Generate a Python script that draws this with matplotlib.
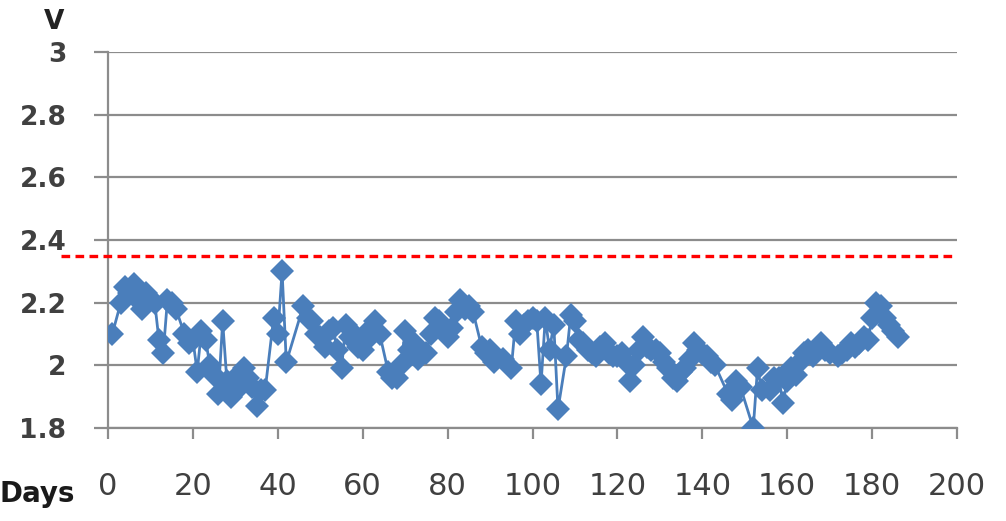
import matplotlib
matplotlib.use("Agg")
import matplotlib.pyplot as plt

# daily readings (day, volts)
days = [1, 3, 4, 5, 6, 7, 8, 9, 10, 11, 12, 13, 14, 15, 16, 18, 19, 20, 21, 22,
        23, 24, 25, 26, 27, 28, 29, 30, 31, 32, 33, 34, 35, 36, 37, 39, 40, 41, 42,
        46, 47, 48, 49, 50, 51, 52, 53, 54, 55, 56, 57, 58, 59, 60, 61, 62, 63, 64,
        66, 67, 68, 69, 70, 71, 72, 73, 74, 75, 76, 77, 78, 79, 80, 81, 82, 83, 84,
        85, 86, 88, 89, 90, 91, 93, 95, 96, 97, 98, 99, 100, 101, 102, 103, 104,
        105, 106, 108, 109, 110, 111, 112, 113, 114, 115, 116, 117, 118, 119, 120,
        121, 122, 123, 124, 125, 126, 127, 128, 129, 130, 131, 132, 133, 134, 135,
        136, 137, 138, 139, 140, 141, 142, 143, 146, 147, 148, 149, 152, 153, 154,
        156, 157, 158, 159, 160, 161, 162, 163, 164, 165, 166, 167, 168, 169, 170,
        172, 173, 174, 175, 176, 177, 178, 179, 180, 181, 182, 183, 184, 185, 186]
volts = [2.10, 2.20, 2.25, 2.23, 2.26, 2.21, 2.18, 2.23, 2.21, 2.20, 2.08, 2.04, 2.21, 2.20, 2.18, 2.10, 2.07, 2.08, 1.98, 2.11,
         2.08, 2.00, 1.97, 1.91, 2.14, 1.95, 1.90, 1.96, 1.93, 1.99, 1.96, 1.93, 1.87, 1.92, 1.92, 2.15, 2.10, 2.30, 2.01,
         2.19, 2.15, 2.14, 2.10, 2.09, 2.06, 2.11, 2.12, 2.05, 1.99, 2.13, 2.09, 2.10, 2.06, 2.05, 2.08, 2.12, 2.14, 2.10,
         1.98, 1.96, 1.96, 2.00, 2.11, 2.05, 2.07, 2.02, 2.04, 2.04, 2.10, 2.15, 2.14, 2.11, 2.09, 2.12, 2.17, 2.21, 2.18,
         2.19, 2.17, 2.06, 2.04, 2.05, 2.01, 2.02, 1.99, 2.14, 2.10, 2.13, 2.14, 2.15, 2.14, 1.94, 2.15, 2.05,
         2.13, 1.86, 2.03, 2.16, 2.14, 2.08, 2.07, 2.05, 2.04, 2.03, 2.06, 2.07, 2.04, 2.03, 2.03,
         2.04, 2.01, 1.95, 2.00, 2.05, 2.09, 2.06, 2.05, 2.05, 2.04, 2.01, 1.99, 1.96, 1.95, 1.98,
         1.99, 2.02, 2.07, 2.05, 2.04, 2.03, 2.01, 2.00, 1.91, 1.89, 1.95, 1.93, 1.80, 1.99, 1.92,
         1.92, 1.96, 1.96, 1.88, 1.95, 1.99, 1.97, 2.01, 2.04, 2.05, 2.03, 2.05, 2.07, 2.05, 2.04,
         2.03, 2.04, 2.05, 2.07, 2.06, 2.07, 2.09, 2.08, 2.15, 2.20, 2.19, 2.15, 2.13, 2.11, 2.09]

limit_v = 2.35
limit_days = [-11, 199]

x_ticks = [0, 20, 40, 60, 80, 100, 120, 140, 160, 180, 200]
y_ticks = [1.8, 2, 2.2, 2.4, 2.6, 2.8, 3]
y_labels = ["1.8", "2", "2.2", "2.4", "2.6", "2.8", "3"]

fig = plt.figure(figsize=(10.06, 5.21), dpi=100)
ax = fig.add_axes([0.1074, 0.1785, 0.8439, 0.7215])

ax.plot(days, volts, color="#4A7EBB", lw=2, marker="D", ms=12, mew=0, zorder=3)
ax.plot(limit_days, [limit_v, limit_v], color="#FF0000", lw=2.4, ls=(0, (2.6, 1.6)),
        clip_on=False, zorder=4)

ax.set_xlim(0, 200)
ax.set_ylim(1.8, 3)
ax.set_xticks(x_ticks)
ax.set_yticks(y_ticks)
ax.set_yticklabels(y_labels)

ax.grid(axis="y", color="#8c8c8c", lw=1.6)
ax.set_axisbelow(True)
for s in ["top", "right"]:
    ax.spines[s].set_visible(False)
for s in ["left", "bottom"]:
    ax.spines[s].set_color("#8c8c8c")
    ax.spines[s].set_linewidth(1.6)

ax.tick_params(axis="y", length=10, width=1.6, color="#8c8c8c", pad=20,
               labelsize=19, labelcolor="#404040")
ax.tick_params(axis="x", length=8, width=1.6, color="#8c8c8c", pad=24,
               labelsize=22, labelcolor="#404040")
for t in ax.get_yticklabels():
    t.set_fontweight("bold")

fig.text(0.054, 0.958, "V", fontsize=19, fontweight="bold", color="#222222",
         ha="center", va="center")
fig.text(0.0, 0.025, "Days", fontsize=20, fontweight="bold", color="#1a1a1a",
         ha="left", va="bottom")

fig.savefig("out.png", dpi=100)
